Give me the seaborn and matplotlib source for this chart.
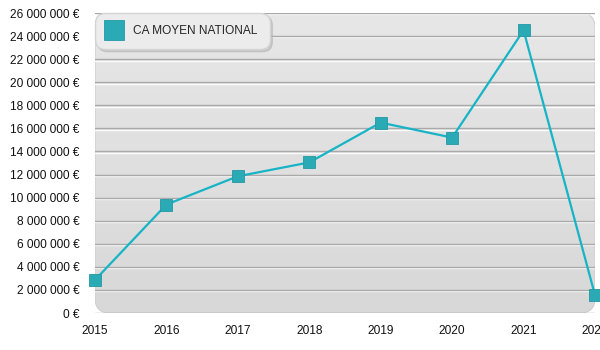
import numpy as np
import pandas as pd
import matplotlib
matplotlib.use("Agg")
import matplotlib.pyplot as plt
import matplotlib.patheffects as pe
from matplotlib.patches import FancyBboxPatch
from matplotlib.ticker import FuncFormatter, MultipleLocator
import seaborn as sns

years = [2015, 2016, 2017, 2018, 2019, 2020, 2021, 2022]
ca_moyen = [2860000, 9400000, 11850000, 13050000, 16500000, 15200000, 24500000, 1550000]
series_name = "CA MOYEN NATIONAL"

df = pd.DataFrame({"Année": years, "CA": ca_moyen, "Série": series_name})

sns.set_theme(style="white")
plt.rcParams["font.family"] = ["Liberation Sans", "DejaVu Sans"]

fig = plt.figure(figsize=(6, 3.5), dpi=100)
ax = fig.add_axes([95 / 600, (350 - 313) / 350, 500 / 600, 300 / 350])
ax.set_facecolor("none")

# rounded gradient background
bg = FancyBboxPatch((0, 0), 1, 1, boxstyle="round,pad=0,rounding_size=0.03",
                    transform=ax.transAxes, facecolor="none",
                    edgecolor="#cfcfcf", linewidth=0.8, zorder=0.5, mutation_aspect=500 / 300)
ax.add_patch(bg)
grad = np.linspace(0, 1, 256).reshape(-1, 1)
cmap = matplotlib.colors.LinearSegmentedColormap.from_list("bg", ["#d8d8d8", "#e7e7e7"])
im = ax.imshow(grad, extent=[0, 1, 0, 1], transform=ax.transAxes, origin="lower",
               cmap=cmap, aspect="auto", zorder=0.2)
im.set_clip_path(bg)

sns.lineplot(data=df, x="Année", y="CA", hue="Série", palette=["#17b4c6"],
             marker="s", markersize=8.3, markeredgecolor="#2299a4", markeredgewidth=0.6,
             markerfacecolor="#2aaab5", linewidth=1.6, ax=ax, zorder=3, clip_on=False)

ax.set_xlim(2015, 2022)
ax.set_ylim(0, 26000000)
ax.yaxis.set_major_locator(MultipleLocator(2000000))
ax.xaxis.set_major_locator(MultipleLocator(1))
ax.yaxis.set_major_formatter(FuncFormatter(lambda v, p: f"{int(v):,} €".replace(",", " ")))
ax.xaxis.set_major_formatter(FuncFormatter(lambda v, p: f"{int(v)}"))
ax.set_xlabel("")
ax.set_ylabel("")
for s in ax.spines.values():
    s.set_visible(False)
ax.tick_params(axis="both", length=0, labelsize=8.6, colors="#111111")
ax.tick_params(axis="y", pad=11)
ax.tick_params(axis="x", pad=9)

ax.grid(axis="y", color="#a9a9a9", linewidth=1.0)
ax.grid(axis="x", visible=False)
ax.set_axisbelow(True)
for gl in ax.yaxis.get_gridlines():
    gl.set_path_effects([pe.SimpleLineShadow(offset=(0, -1.0), shadow_color="white", alpha=0.9, rho=1),
                         pe.Normal()])
    gl.set_zorder(1)
ax.yaxis.get_gridlines()[0].set_visible(False)
ax.yaxis.get_gridlines()[-1].set_visible(False)

leg = ax.legend(loc="upper left", bbox_to_anchor=(0.0, 1.0), borderaxespad=0,
                frameon=True, fancybox=True, shadow={"color": "#b0b0b0", "alpha": 0.5},
                fontsize=8.6, handlelength=1.2, handletextpad=1.0, borderpad=1.0,
                markerscale=1.7)
leg.get_frame().set_facecolor("#ececec")
leg.get_frame().set_edgecolor("#d4d4d4")
leg.get_frame().set_alpha(1)
leg.get_frame().set_boxstyle("round,pad=0,rounding_size=0.8")
for h in leg.legend_handles:
    h.set_linestyle("none")

fig.savefig("out.png", dpi=100)
